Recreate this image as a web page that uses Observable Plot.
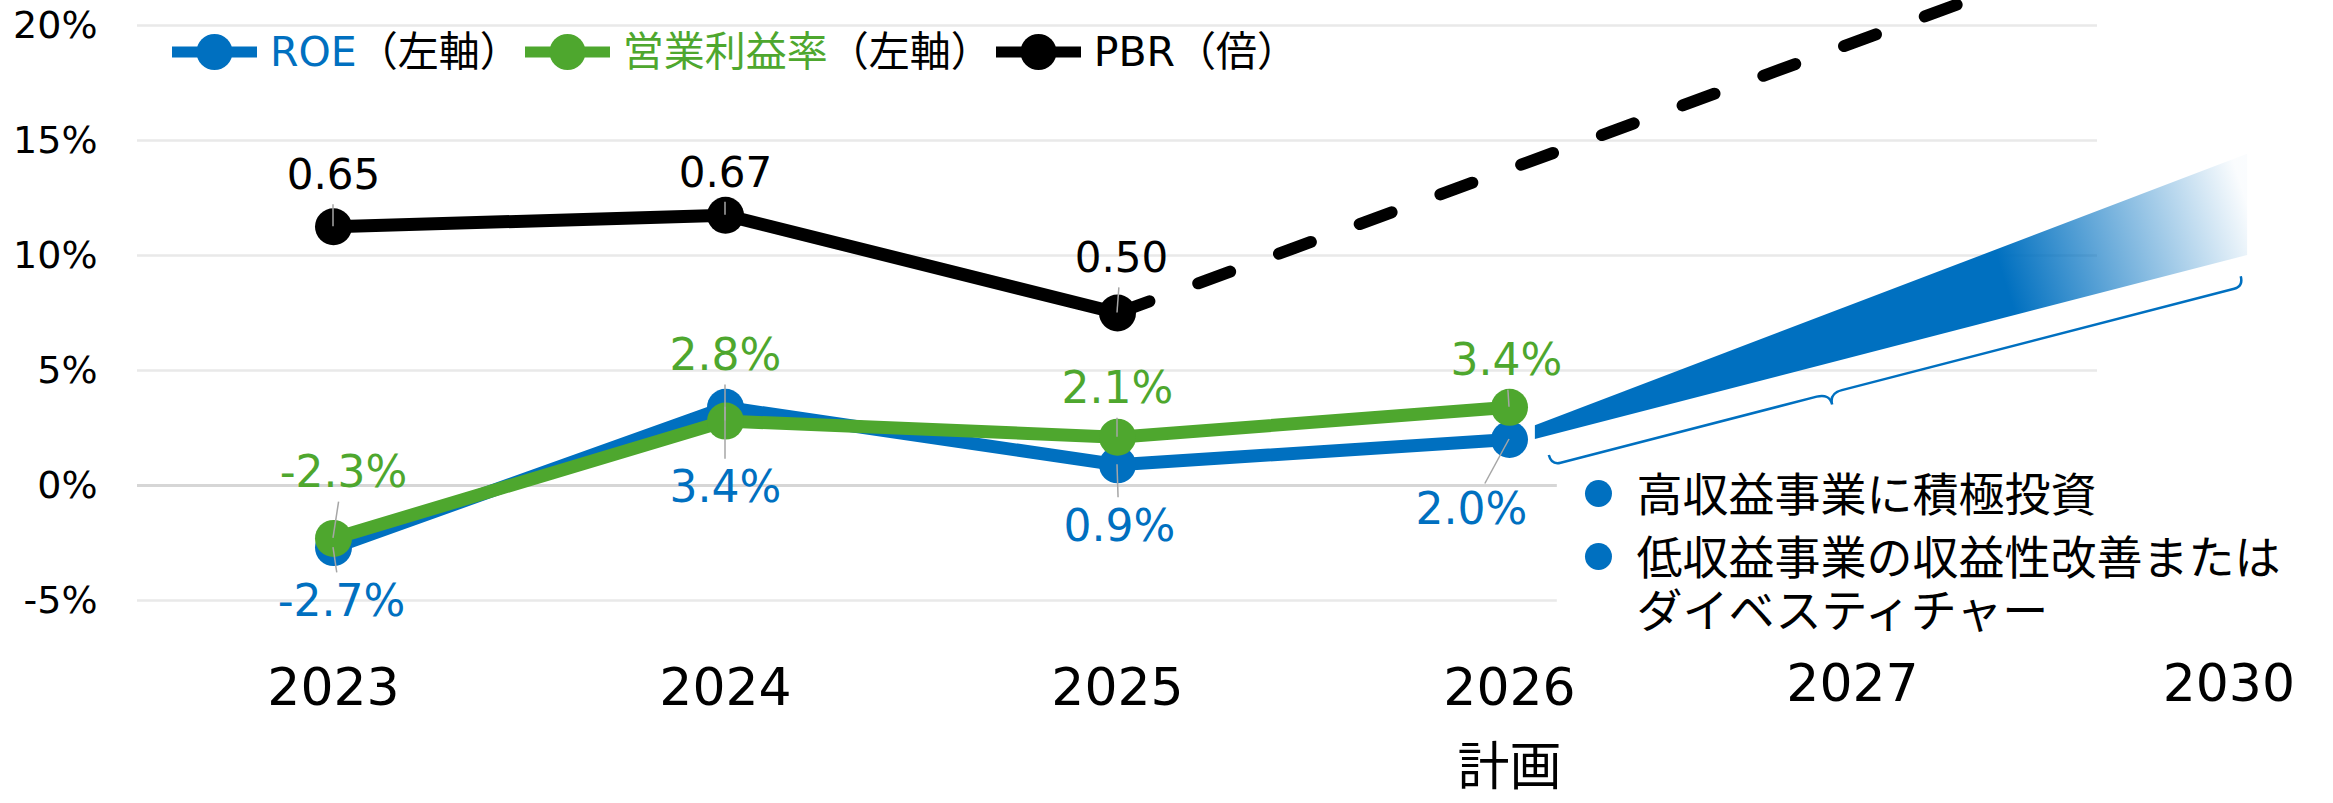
<!DOCTYPE html>
<html><head><meta charset="utf-8">
<script src="https://cdn.jsdelivr.net/npm/d3@7"></script>
<script src="https://cdn.jsdelivr.net/npm/@observablehq/plot@0.6"></script>
<style>
body{margin:0;background:#fff;}
#wrap{position:relative;width:2333px;height:803px;overflow:hidden;font-family:'DejaVu Sans','Noto Sans CJK JP',sans-serif;}
#legend{position:absolute;left:172px;top:27px;display:flex;align-items:center;height:50px;font-size:41px;line-height:50px;white-space:nowrap;}
#legend .item{display:flex;align-items:center;margin-right:4px;}
#legend .item svg{margin-right:13px;display:block;}
</style></head><body>
<div id="wrap"><div id="chart"></div><div id="legend"></div></div>
<script>
// ---------- data ----------
const years = ["2023", "2024", "2025", "2026"];
const roe = [-2.7, 3.4, 0.9, 2.0];            // ROE (%), left axis
const opMargin = [-2.3, 2.8, 2.1, 3.4];       // 営業利益率 (%), left axis
const pbr = [0.65, 0.67, 0.50];               // PBR (倍), right (hidden) axis 0–1.0
const pbrPlanYears = ["2025", "2030"];
const pbrPlan = [0.50, 1.21];                 // dashed PBR path
const roePlanYears = ["2026", "2030"];
const roePlanLow = [2.0, 10.0];               // ROE wedge lower edge (%)
const roePlanHigh = [2.6, 14.4];              // ROE wedge upper edge (%)
const yTicks = [-5, 0, 5, 10, 15, 20];
const planYears = ["2027", "2030"];
const planNote = "計画";
const notes = [["高収益事業に積極投資"], ["低収益事業の収益性改善または", "ダイベスティチャー"]];
const legendNames = [["ROE", "（左軸）"], ["営業利益率", "（左軸）"], ["PBR", "（倍）"]];

// ---------- layout / style ----------
const BLUE = "#0070C0", GREEN = "#4EA72E", BLACK = "#000000", LEADER = "#a6a6a6";
const slotOf = {"2023": 0, "2024": 1, "2025": 2, "2026": 3, "2027": 3.875, "2030": 4.835};
const wedgeSlots = [3.066, 4.883];
const pbrToPct = v => -5 + 25 * v;           // secondary axis 0–1.0 ↔ primary −5%–20%
const roeOff = [[8, 54], [0, 81], [2, 62], [-38, 70]];
const opmOff = [[10, -65], [0, -65], [0, -48], [-3, -46]];
const pbrOff = [[0, -51], [0, -42], [4, -54]];
const noteBox = {x1: 3.122, x2: 5.3, y1: 0.65, y2: -7};
const noteBulletX = 3.227, noteTextX = 3.324;
const noteBulletY = [-0.35, -3.09];
const noteLineY = [-0.48, -3.22, -5.52];

// ---------- tables ----------
const main = years.map((y, i) => ({slot: slotOf[y], roe: roe[i], opm: opMargin[i]}));
const pbrData = pbr.map((v, i) => ({slot: slotOf[years[i]], y: pbrToPct(v), v}));
const pbrPlanData = pbrPlanYears.map((y, i) => ({slot: slotOf[y], y: pbrToPct(pbrPlan[i])}));
const wedge = roePlanYears.map((y, i) => ({slot: wedgeSlots[i], low: roePlanLow[i], high: roePlanHigh[i]}));
const noteLines = notes.flat();

const labelSpecs = [
  ...main.map((d, i) => ({slot: d.slot, y: d.roe, dx: roeOff[i][0], dy: roeOff[i][1], text: `${roe[i].toFixed(1)}%`, color: BLUE, size: 44})),
  ...main.map((d, i) => ({slot: d.slot, y: d.opm, dx: opmOff[i][0], dy: opmOff[i][1], text: `${opMargin[i].toFixed(1)}%`, color: GREEN, size: 44})),
  ...pbrData.map((d, i) => ({slot: d.slot, y: d.y, dx: pbrOff[i][0], dy: pbrOff[i][1], text: d.v.toFixed(2), color: BLACK, size: 42}))
];

// ---------- custom render marks ----------
function wedgeDefs(index, scales) {
  const {x, y} = scales;
  const defs = d3.create("svg:defs");
  const g = defs.append("linearGradient").attr("id", "wedgeGrad").attr("gradientUnits", "userSpaceOnUse")
    .attr("x1", x(wedgeSlots[0])).attr("y1", y((roePlanLow[0] + roePlanHigh[0]) / 2))
    .attr("x2", x(wedgeSlots[1])).attr("y2", y((roePlanLow[1] + roePlanHigh[1]) / 2));
  g.append("stop").attr("offset", 0).attr("stop-color", BLUE);
  g.append("stop").attr("offset", 0.66).attr("stop-color", BLUE);
  g.append("stop").attr("offset", 1).attr("stop-color", BLUE).attr("stop-opacity", 0.02);
  return defs.node();
}
function brace(index, scales) {
  const {x, y} = scales;
  const p0 = [x(wedgeSlots[0]), y(roePlanLow[0])], p1 = [x(wedgeSlots[1]), y(roePlanLow[1])];
  const dx = p1[0] - p0[0], dy = p1[1] - p0[1], L = Math.hypot(dx, dy);
  const u = [dx / L, dy / L], n = [-u[1], u[0]];
  const P = (s, t) => [p0[0] + u[0] * s + n[0] * t, p0[1] + u[1] * s + n[1] * t];
  const tip = L * 0.403, off = 29.5, hook = 19, tipOut = 41;
  const p = d3.path();
  p.moveTo(...P(9.5, hook));
  p.quadraticCurveTo(...P(9.5, off), ...P(19, off));
  p.lineTo(...P(tip - 13, off));
  p.quadraticCurveTo(...P(tip, off), ...P(tip, tipOut));
  p.quadraticCurveTo(...P(tip, off), ...P(tip + 13, off));
  p.lineTo(...P(L - 21, off));
  p.quadraticCurveTo(...P(L - 11.5, off), ...P(L - 11.5, hook));
  return d3.create("svg:path").attr("d", p.toString()).attr("fill", "none")
    .attr("stroke", BLUE).attr("stroke-width", 2.5).node();
}
function leaders(index, scales) {
  const g = d3.create("svg:g").attr("stroke", LEADER).attr("stroke-width", 1.5);
  for (const d of labelSpecs) {
    const px = scales.x(d.slot), py = scales.y(d.y);
    const dist = Math.hypot(d.dx, d.dy), len = dist - 29;
    g.append("line").attr("x1", px).attr("y1", py)
      .attr("x2", px + d.dx / dist * len).attr("y2", py + d.dy / dist * len);
  }
  return g.node();
}

// ---------- plot ----------
const chart = Plot.plot({
  width: 2333, height: 803,
  marginLeft: 137, marginRight: 236, marginTop: 25, marginBottom: 203,
  style: {fontFamily: "'DejaVu Sans','Noto Sans CJK JP',sans-serif", fontSize: "38px", background: "white", color: "black"},
  x: {type: "linear", domain: [-0.5, 4.5], axis: null},
  y: {domain: [-5, 20]},
  marks: [
    wedgeDefs,
    Plot.gridY(yTicks.filter(t => t !== 0), {stroke: "#e9e9e9", strokeOpacity: 1, strokeWidth: 2.5}),
    Plot.ruleY([0], {stroke: "#d6d6d6", strokeWidth: 3}),
    Plot.rect([noteBox], {x1: "x1", x2: "x2", y1: "y1", y2: "y2", fill: "white"}),
    Plot.axisY({ticks: yTicks, tickFormat: d => `${d}%`, tickSize: 0, tickPadding: 40, fontSize: 38, label: null, fill: "black"}),
    Plot.areaY(wedge, {x: "slot", y1: "low", y2: "high", fill: "url(#wedgeGrad)"}),
    brace,
    Plot.line(main, {x: "slot", y: "roe", stroke: BLUE, strokeWidth: 13, strokeLinejoin: "round"}),
    Plot.dot(main, {x: "slot", y: "roe", r: 18.5, fill: BLUE}),
    Plot.line(main, {x: "slot", y: "opm", stroke: GREEN, strokeWidth: 13, strokeLinejoin: "round"}),
    Plot.dot(main, {x: "slot", y: "opm", r: 18.5, fill: GREEN}),
    Plot.line(pbrPlanData, {x: "slot", y: "y", stroke: BLACK, strokeWidth: 12, strokeDasharray: "34 52", strokeLinecap: "round"}),
    Plot.line(pbrData, {x: "slot", y: "y", stroke: BLACK, strokeWidth: 13, strokeLinejoin: "round"}),
    Plot.dot(pbrData, {x: "slot", y: "y", r: 18.5, fill: BLACK}),
    leaders,
    ...labelSpecs.map(d => Plot.text([d], {x: "slot", y: "y", text: "text", dx: d.dx, dy: d.dy, fill: d.color, fontSize: d.size})),
    Plot.text(years, {x: d => slotOf[d], text: d => d, frameAnchor: "bottom", dy: 104, fontSize: 52, fill: "black"}),
    Plot.text(planYears, {x: d => slotOf[d], text: d => d, frameAnchor: "bottom", dy: 100, fontSize: 52, fill: "black"}),
    Plot.text([planNote], {x: () => slotOf["2026"], text: d => d, frameAnchor: "bottom", dy: 184, fontSize: 52, fill: "black"}),
    Plot.dot(notes, {x: () => noteBulletX, y: (d, i) => noteBulletY[i], r: 13.5, fill: BLUE}),
    Plot.text(noteLines, {x: () => noteTextX, y: (d, i) => noteLineY[i], text: d => d, textAnchor: "start", fontSize: 46,
      fontFamily: "'Liberation Sans','Noto Sans CJK JP',sans-serif", fill: "black"})
  ]
});
document.getElementById("chart").appendChild(chart);

// ---------- legend (HTML overlay) ----------
const legendColors = [BLUE, GREEN, BLACK];
const leg = d3.select("#legend");
legendNames.forEach(([name, suffix], i) => {
  const item = leg.append("div").attr("class", "item");
  const sw = item.append("svg").attr("width", 85).attr("height", 40);
  sw.append("line").attr("x1", 0).attr("x2", 85).attr("y1", 20).attr("y2", 20)
    .attr("stroke", legendColors[i]).attr("stroke-width", 11);
  sw.append("circle").attr("cx", 42.5).attr("cy", 20).attr("r", 18).attr("fill", legendColors[i]);
  const t = item.append("span");
  t.append("span").style("color", legendColors[i]).text(name);
  t.append("span").style("color", "black").text(suffix);
});
</script>
</body></html>
